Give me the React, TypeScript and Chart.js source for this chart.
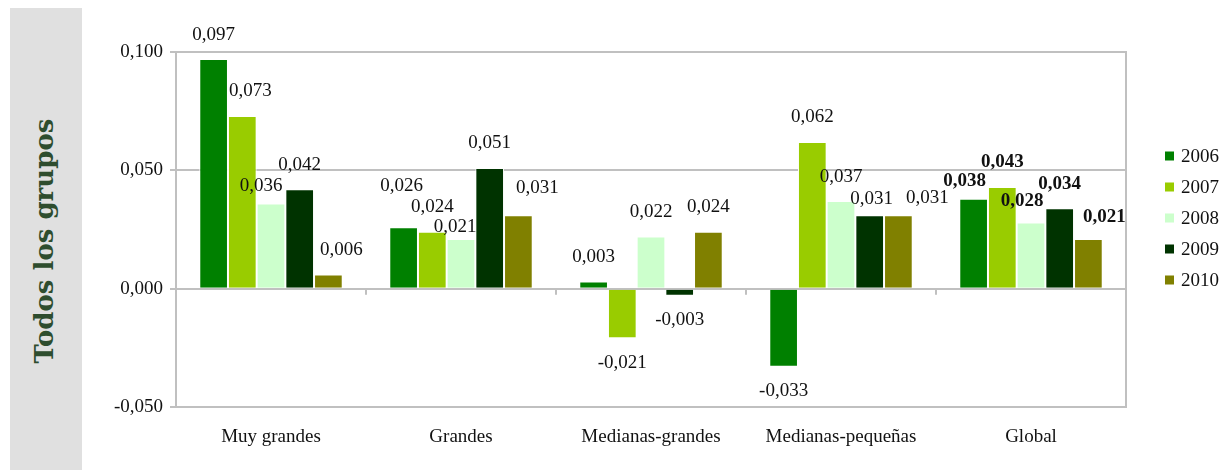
import React, { useEffect, useRef } from "react";
import { Chart, registerables } from "chart.js";

Chart.register(...registerables);

const categories = ["Muy grandes", "Grandes", "Medianas-grandes", "Medianas-pequeñas", "Global"];
const seriesNames = ["2006", "2007", "2008", "2009", "2010"];
const values2006 = [0.097, 0.026, 0.003, -0.033, 0.038];
const values2007 = [0.073, 0.024, -0.021, 0.062, 0.043];
const values2008 = [0.036, 0.021, 0.022, 0.037, 0.028];
const values2009 = [0.042, 0.051, -0.003, 0.031, 0.034];
const values2010 = [0.006, 0.031, 0.024, 0.031, 0.021];
const seriesColors = ["#008000", "#99cc00", "#ccffcc", "#003300", "#808000"];
const yTicks = [-0.05, 0, 0.05, 0.1];
const panelTitle = "Todos los grupos";
const boldCategory = "Global";

const SERIF = "'Liberation Serif', 'Times New Roman', serif";
const GRID = "#c0c0c0";

const fmt = (v: number) => v.toFixed(3).replace(".", ",");

export default function App() {
  const ref = useRef<HTMLCanvasElement | null>(null);

  useEffect(() => {
    const canvas = ref.current;
    if (!canvas) return;
    const allValues = [values2006, values2007, values2008, values2009, values2010];

    // label placement tweaks (dx, dy from bar end) where the original moved labels to avoid overlap
    const labelNudges: Record<string, [number, number]> = {
      "0|1": [8, -25],
      "0|2": [-10, -17],
      "0|4": [13, -24],
      "1|0": [-2, -41],
      "1|2": [-6, -12],
      "1|4": [19, -27],
      "3|3": [2, -16],
      "3|4": [29, -17],
      "4|0": [-9, -18],
      "4|2": [-9, -21],
      "4|4": [16, -22],
    };

    const framePlugin = {
      id: "frame",
      beforeDatasetsDraw(chart: any) {
        const { ctx, chartArea, scales } = chart;
        ctx.save();
        ctx.strokeStyle = GRID;
        ctx.lineWidth = 2;
        ctx.strokeRect(chartArea.left, chartArea.top, chartArea.right - chartArea.left, chartArea.bottom - chartArea.top);
        const y0 = scales.y.getPixelForValue(0);
        const xs = scales.x;
        ctx.beginPath();
        for (let i = 0; i < categories.length - 1; i++) {
          const bx = (xs.getPixelForValue(i) + xs.getPixelForValue(i + 1)) / 2;
          ctx.moveTo(bx, y0);
          ctx.lineTo(bx, y0 + 6);
        }
        ctx.stroke();
        ctx.restore();
      },
    };

    const labelsPlugin = {
      id: "valueLabels",
      afterDatasetsDraw(chart: any) {
        const { ctx } = chart;
        ctx.save();
        ctx.textAlign = "center";
        ctx.textBaseline = "middle";
        ctx.fillStyle = "#111";
        chart.data.datasets.forEach((ds: any, di: number) => {
          const meta = chart.getDatasetMeta(di);
          meta.data.forEach((el: any, i: number) => {
            const v = ds.data[i];
            const bold = categories[i] === boldCategory;
            ctx.font = `${bold ? "bold " : ""}19px ${SERIF}`;
            const nudge = labelNudges[`${i}|${di}`];
            const dx = nudge ? nudge[0] : 0;
            const dy = nudge ? nudge[1] : v >= 0 ? -24.5 : 24.5;
            ctx.fillText(fmt(v), el.x + dx, el.y + dy);
          });
        });
        ctx.restore();
      },
    };

    const legendPlugin = {
      id: "sideLegend",
      afterDraw(chart: any) {
        const { ctx } = chart;
        ctx.save();
        ctx.font = `19px ${SERIF}`;
        ctx.textAlign = "left";
        ctx.textBaseline = "middle";
        chart.data.datasets.forEach((ds: any, i: number) => {
          const cy = 156 + i * 31;
          ctx.fillStyle = ds.backgroundColor;
          ctx.fillRect(1165, cy - 4.5, 9, 9);
          ctx.fillStyle = "#111";
          ctx.fillText(ds.label, 1181, cy + 1);
        });
        ctx.restore();
      },
    };

    const chart = new Chart(canvas, {
      type: "bar",
      data: {
        labels: categories,
        datasets: seriesNames.map((name, i) => ({
          label: name,
          data: allValues[i],
          backgroundColor: seriesColors[i],
          borderColor: "#ffffff",
          borderWidth: 1,
          barPercentage: 1,
          categoryPercentage: 0.755,
        })),
      },
      options: {
        animation: false,
        responsive: false,
        devicePixelRatio: 1,
        layout: { padding: { top: 52, right: 98, bottom: 0, left: 0 } },
        plugins: { legend: { display: false }, tooltip: { enabled: false } },
        scales: {
          x: {
            grid: { display: false, drawTicks: false },
            border: { display: false },
            ticks: { color: "#111", font: { family: SERIF, size: 19 }, padding: 19, maxRotation: 0 },
            afterFit(scale: any) {
              scale.height = 63;
            },
          },
          y: {
            min: -0.05,
            max: 0.1,
            afterBuildTicks(scale: any) {
              scale.ticks = yTicks.map((v) => ({ value: v }));
            },
            grid: { color: GRID, lineWidth: 2, tickLength: 6, drawTicks: true },
            border: { display: true, color: GRID, width: 2 },
            ticks: {
              color: "#111",
              font: { family: SERIF, size: 19 },
              padding: 7,
              callback: (v: any) => fmt(Number(v)),
            },
            afterFit(scale: any) {
              scale.width = 176;
            },
          },
        },
      },
      plugins: [framePlugin, labelsPlugin, legendPlugin],
    });

    return () => chart.destroy();
  }, []);

  return (
    <div style={{ position: "fixed", left: 0, top: 0, width: 1224, height: 470, background: "#fff", overflow: "hidden" }}>
      <canvas ref={ref} width={1224} height={470} style={{ position: "absolute", left: 0, top: 0, width: 1224, height: 470 }} />
      <div style={{ position: "absolute", left: 10, top: 8, width: 72, height: 462, background: "#e0e0e0" }}>
        <div
          style={{
            position: "absolute",
            left: 34,
            top: 233,
            transform: "translate(-50%, -50%) rotate(-90deg)",
            whiteSpace: "nowrap",
            fontFamily: "'DejaVu Serif', serif",
            fontWeight: "bold",
            fontSize: 26,
            color: "#2e4d2e",
          }}
        >
          {panelTitle}
        </div>
      </div>
    </div>
  );
}
